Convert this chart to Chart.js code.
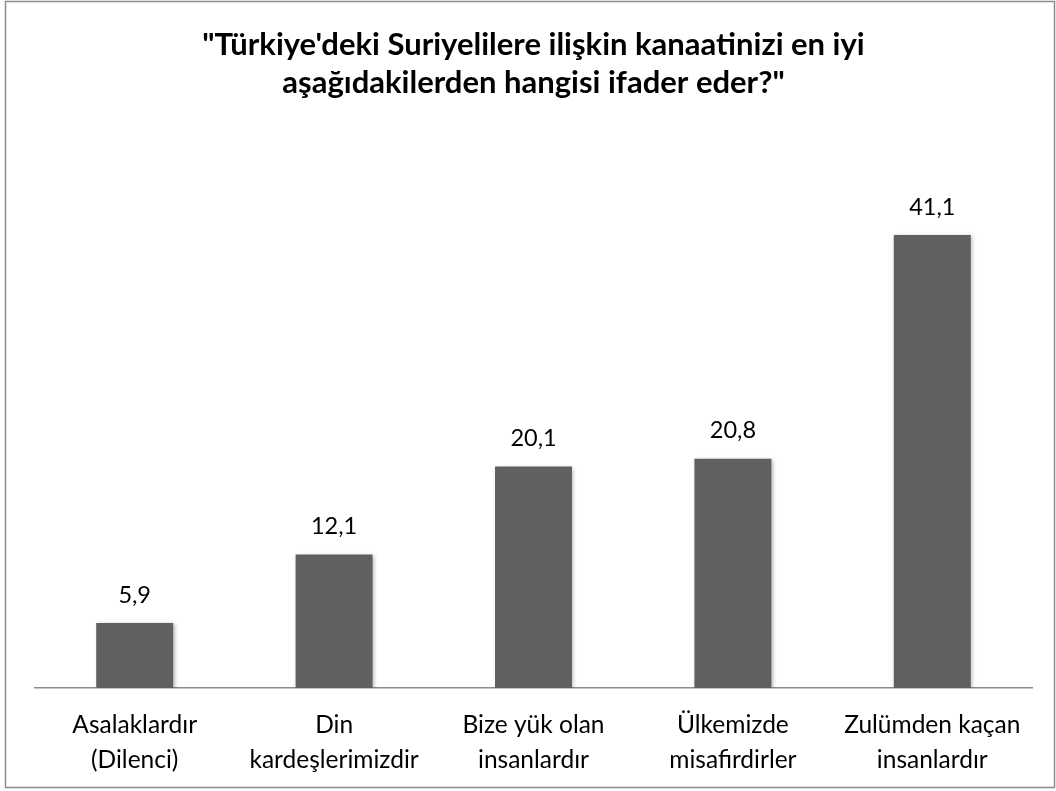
<!DOCTYPE html>
<html>
<head>
<meta charset="utf-8">
<script src="https://cdn.jsdelivr.net/npm/chart.js@4.4.1/dist/chart.umd.min.js"></script>
<style>
  html, body { margin: 0; padding: 0; background: #ffffff; }
  #wrap { position: absolute; left: 0; top: 0; width: 1056px; height: 791px; }
</style>
</head>
<body>
<div id="wrap"><canvas id="c" width="1056" height="791"></canvas></div>
<script>
const titleLines = ["\"Türkiye'deki Suriyelilere ilişkin kanaatinizi en iyi", "aşağıdakilerden hangisi ifader eder?\""];
const categories = [
  ["Asalaklardır", "(Dilenci)"],
  ["Din", "kardeşlerimizdir"],
  ["Bize yük olan", "insanlardır"],
  ["Ülkemizde", "misafirdirler"],
  ["Zulümden kaçan", "insanlardır"]
];
const values = [5.9, 12.1, 20.1, 20.8, 41.1];
const valueLabels = ["5,9", "12,1", "20,1", "20,8", "41,1"];

const FONT = "Lato, 'Open Sans', sans-serif";

const frame = {
  id: 'frame',
  beforeDraw(chart) {
    const ctx = chart.ctx;
    ctx.save();
    ctx.fillStyle = '#ffffff';
    ctx.fillRect(0, 0, chart.width, chart.height);
    ctx.strokeStyle = '#8c8c8c';
    ctx.lineWidth = 1.5;
    ctx.strokeRect(5.5, 1.5, 1049, 786);
    ctx.restore();
  }
};

const shadow = {
  id: 'shadow',
  beforeDatasetsDraw(chart) {
    const ctx = chart.ctx;
    ctx.save();
    ctx.shadowColor = 'rgba(0,0,0,0.28)';
    ctx.shadowBlur = 4;
    ctx.shadowOffsetX = 1.5;
    ctx.shadowOffsetY = 1.5;
  },
  afterDatasetsDraw(chart) {
    chart.ctx.restore();
  }
};

const valueLabelPlugin = {
  id: 'valueLabels',
  afterDatasetsDraw(chart) {
    const ctx = chart.ctx;
    const meta = chart.getDatasetMeta(0);
    ctx.save();
    ctx.font = "23.5px " + FONT;
    ctx.fillStyle = '#000000';
    ctx.textAlign = 'center';
    ctx.textBaseline = 'middle';
    meta.data.forEach((bar, i) => {
      ctx.fillText(valueLabels[i], bar.x, bar.y - 28);
    });
    ctx.restore();
  }
};

new Chart(document.getElementById('c'), {
  type: 'bar',
  data: {
    labels: categories,
    datasets: [{
      data: values,
      backgroundColor: '#606060',
      borderWidth: 0,
      barPercentage: 0.386,
      categoryPercentage: 1.0
    }]
  },
  options: {
    responsive: false,
    animation: false,
    devicePixelRatio: 1,
    layout: { padding: { left: 35, right: 24, top: 0, bottom: -6 } },
    plugins: {
      legend: { display: false },
      tooltip: { enabled: false },
      title: {
        display: true,
        text: titleLines,
        color: '#000000',
        font: { family: FONT, size: 31, weight: 'bold', lineHeight: 1.226 },
        padding: { top: 26, bottom: 90 }
      }
    },
    scales: {
      x: {
        grid: { display: false, drawTicks: false, tickLength: 0 },
        border: { display: true, color: '#8c8c8c', width: 1.5 },
        ticks: {
          color: '#000000',
          font: { family: FONT, size: 24.5, lineHeight: 1.45 },
          padding: 19,
          maxRotation: 0,
          autoSkip: false
        }
      },
      y: {
        display: false,
        min: 0,
        max: 45
      }
    }
  },
  plugins: [frame, shadow, valueLabelPlugin]
});
</script>
</body>
</html>
